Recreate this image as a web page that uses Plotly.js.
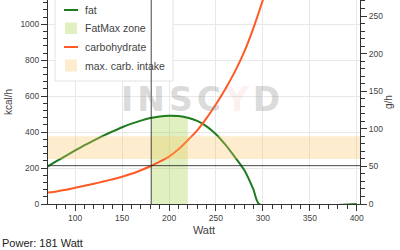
<!DOCTYPE html>
<html>
<head>
<meta charset="utf-8">
<script src="https://cdn.plot.ly/plotly-3.0.1.min.js"></script>
<style>html,body{margin:0;padding:0;background:#fff;}#chart{width:400px;height:250px;}</style>
</head>
<body>
<div id="chart"></div>
<script>
// ---- data ----
const fatWatt = [70,80,90,100,110,120,130,140,150,160,170,180,190,200,210,220,230,240,250,260,270,280,290,296,400];
const fatKcal = [207,238,268,298,327,354,380,404,427,447,464,478,487,491,489,480,462,432,388,330,262,190,80,0,0];
const carbWatt = [70,80,90,100,110,120,130,140,150,160,170,180,190,200,210,220,230,240,250,260,270,280,290,300,310];
const carbKcal = [63,70,79,90,101,113,125,138,152,168,188,210,236,264,305,355,410,478,555,640,735,845,980,1135,1300];
const fatMaxZone = [181, 220];      // Watt
const maxCarbIntake = [60, 90];     // g/h
const power = 181;                  // Watt
const carbAtPower = 51;             // g/h
const xRange = [71, 403.5];
const yRange = [0, 1135];
const y2Range = [0, 271.3];
const xTicks = [100,150,200,250,300,350,400];
const yTicks = [0,200,400,600,800,1000];
const y2Ticks = [0,50,100,150,200,250];
const legendNames = ['fat', 'FatMax zone', 'carbohydrate', 'max. carb. intake'];

const FONT = "Liberation Sans, Arial, sans-serif";
const GREEN = '#1e7b1e', RED = '#ff5a26';
const ZONE = 'rgba(154,205,50,0.3)', BAND = 'rgba(250,195,100,0.32)';

// fat values inside the FatMax zone (linear interpolation of the fat series)
function interp(xs, ys, x) {
  for (let i = 0; i < xs.length - 1; i++) {
    if (x >= xs[i] && x <= xs[i+1]) return ys[i] + (ys[i+1]-ys[i])*(x-xs[i])/(xs[i+1]-xs[i]);
  }
  return ys[ys.length-1];
}
const zoneX = [fatMaxZone[0]].concat(fatWatt.filter(w => w > fatMaxZone[0] && w < fatMaxZone[1]), [fatMaxZone[1]]);
const zoneY = zoneX.map(w => interp(fatWatt, fatKcal, w));

const traces = [
  {x:zoneX, y:zoneY, type:'scatter', mode:'lines', fill:'tozeroy', fillcolor:ZONE,
   line:{width:0, shape:'spline'}, name:legendNames[1], hoverinfo:'skip'},
  {x:[xRange[0],xRange[1],xRange[1],xRange[0],xRange[0]],
   y:[maxCarbIntake[0],maxCarbIntake[0],maxCarbIntake[1],maxCarbIntake[1],maxCarbIntake[0]],
   yaxis:'y2', type:'scatter', mode:'lines', fill:'toself', fillcolor:BAND,
   line:{width:0}, name:legendNames[3], hoverinfo:'skip'},
  {x:fatWatt, y:fatKcal, type:'scatter', mode:'lines', name:legendNames[0],
   line:{color:GREEN, width:2, shape:'spline', smoothing:0.6}},
  {x:carbWatt, y:carbKcal, type:'scatter', mode:'lines', name:legendNames[2],
   line:{color:RED, width:2, shape:'spline', smoothing:0.6}}
];

const axisCommon = {
  showline:true, linecolor:'#333', linewidth:1, ticks:'outside', ticklen:6, tickcolor:'#333',
  tickfont:{family:FONT, size:8.5, color:'#444'}, zeroline:false, fixedrange:true,
  gridcolor:'#e8e8e8', gridwidth:1
};

// manual legend (pixel helpers -> paper coords)
const PL = 48, PW = 312, PH = 204;
const px = v => (v - PL) / PW;
const py = v => 1 - v / PH;
const legendShapes = [
  {type:'rect', xref:'paper', yref:'paper', x0:px(55), x1:px(173), y0:py(81), y1:py(-5),
   fillcolor:'#fff', line:{color:'#e2e2e2', width:1}, layer:'above'},
  {type:'line', xref:'paper', yref:'paper', x0:px(64), x1:px(78), y0:py(10), y1:py(10), line:{color:GREEN, width:2}, layer:'above'},
  {type:'rect', xref:'paper', yref:'paper', x0:px(65), x1:px(77), y0:py(34), y1:py(22.5), fillcolor:ZONE, line:{width:0}, layer:'above'},
  {type:'line', xref:'paper', yref:'paper', x0:px(64), x1:px(78), y0:py(47), y1:py(47), line:{color:RED, width:2}, layer:'above'},
  {type:'rect', xref:'paper', yref:'paper', x0:px(65), x1:px(77), y0:py(71.5), y1:py(59.5), fillcolor:BAND, line:{width:0}, layer:'above'}
];
const legendRowsY = [10, 28.5, 47, 65.5];
const legendAnn = legendNames.map((n, i) => ({
  xref:'paper', yref:'paper', x:px(83), y:py(legendRowsY[i]), xanchor:'left', yanchor:'middle',
  showarrow:false, text:n, font:{family:FONT, size:10.5, color:'#444'}
}));

const layout = {
  width:400, height:250,
  margin:{l:48, r:40, t:0, b:46},
  paper_bgcolor:'#fff', plot_bgcolor:'#fff',
  font:{family:FONT, color:'#444'},
  showlegend:false,
  xaxis:Object.assign({}, axisCommon, {range:xRange, tickvals:xTicks, showgrid:true,
          minor:{dtick:10, ticklen:4, ticks:'outside', tickcolor:'#333', showgrid:false},
          title:{text:'Watt', font:{family:FONT, size:11, color:'#444'}, standoff:4}}),
  yaxis:Object.assign({}, axisCommon, {range:yRange, tickvals:yTicks, showgrid:true,
          minor:{dtick:40, ticklen:4, ticks:'outside', tickcolor:'#333', showgrid:false},
          title:{text:'kcal/h', font:{family:FONT, size:10, color:'#444'}, standoff:5}}),
  yaxis2:Object.assign({}, axisCommon, {range:y2Range, tickvals:y2Ticks, overlaying:'y', side:'right', showgrid:false,
          minor:{dtick:10, ticklen:4, ticks:'outside', tickcolor:'#333', showgrid:false},
          title:{text:'g/h', font:{family:FONT, size:10, color:'#444'}, standoff:0}}),
  shapes: legendShapes.concat([
    {type:'line', xref:'x', yref:'paper', x0:power, x1:power, y0:0, y1:1, line:{color:'rgba(40,40,40,0.85)', width:1}, layer:'above'},
    {type:'line', xref:'paper', yref:'y2', x0:0, x1:1, y0:carbAtPower, y1:carbAtPower, line:{color:'rgba(40,40,40,0.85)', width:1}, layer:'above'}
  ]),
  annotations: legendAnn.concat([
    {xref:'paper', yref:'paper', x:0.495, y:0.51, xanchor:'center', yanchor:'middle', showarrow:false,
     text:'<span style="letter-spacing:4px">INSC</span><span style="letter-spacing:4px;color:rgba(235,100,100,0.32)">Y</span><span style="letter-spacing:4px">D</span>',
     font:{family:'DejaVu Sans, sans-serif', size:33, color:'rgba(140,140,140,0.33)', weight:'bold'}},
    {xref:'paper', yref:'paper', x:-0.1538, y:-0.19, xanchor:'left', yanchor:'middle', showarrow:false,
     text:'Power: '+power+' Watt', font:{family:FONT, size:11, color:'#222'}}
  ])
};

Plotly.newPlot('chart', traces, layout, {staticPlot:true, displayModeBar:false});
</script>
</body>
</html>
